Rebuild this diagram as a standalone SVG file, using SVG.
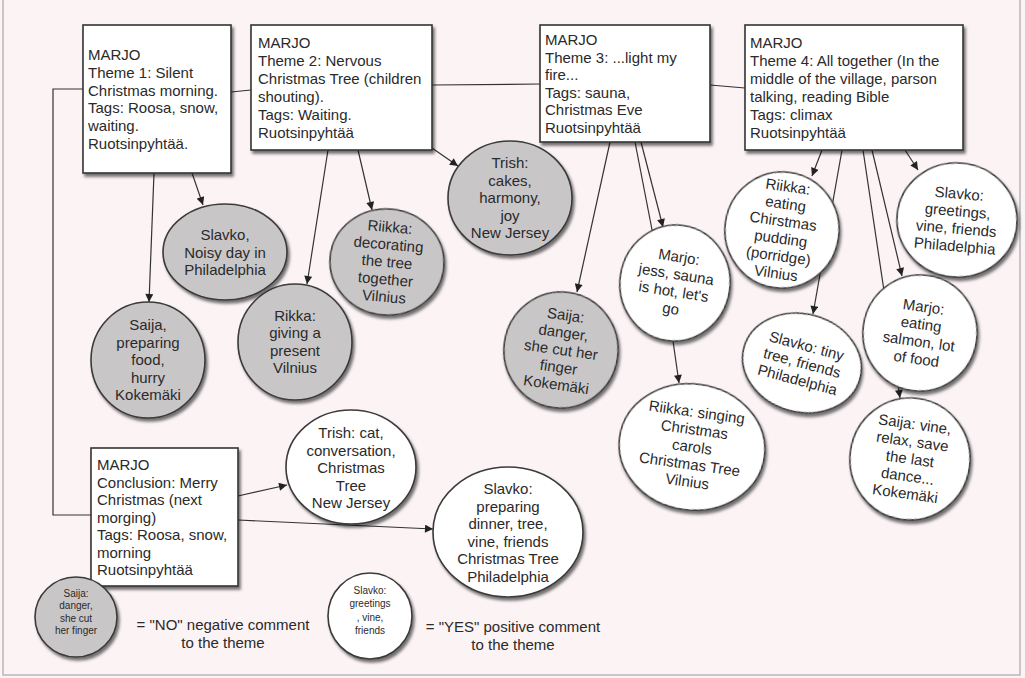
<svg xmlns="http://www.w3.org/2000/svg" width="1025" height="678" viewBox="0 0 1025 678">
<defs>
<style>
.bg{fill:#fcf3f5}
.frame{fill:none;stroke:#b9b6b8;stroke-width:1.5}
.box{fill:#ffffff;stroke:#333;stroke-width:1.6}
.neg{fill:#c9c6c8;stroke:#3a3a3a;stroke-width:1.6}
.pos{fill:#ffffff;stroke:#3a3a3a;stroke-width:1.6}
.sh{filter:url(#shadow)}
text{font-family:"Liberation Sans",Arial,sans-serif;font-size:15px;fill:#2a2a2a}
.c{text-anchor:middle}
.sm{font-size:10px}
.conn line,.conn polyline{stroke:#333;stroke-width:1.2;fill:none}
.arr{marker-end:url(#ah)}
</style>
<filter id="shadow" x="-20%" y="-20%" width="150%" height="150%">
<feDropShadow dx="2" dy="3" stdDeviation="1.8" flood-color="#000" flood-opacity="0.55"/>
</filter>
<marker id="ah" viewBox="0 0 10 10" refX="10" refY="5" markerWidth="9" markerHeight="8" markerUnits="userSpaceOnUse" orient="auto">
<path d="M0,0 L10,5 L0,10 z" fill="#222"/>
</marker>
</defs>
<rect class="bg" x="0" y="0" width="1025" height="678"/>
<polyline class="frame" points="3,0 3,675 1020,675 1020,0"/>

<g id="connectors" class="conn">
<polyline points="83,89 53,89 53,515 91,515"/>
<line x1="231" y1="92" x2="251" y2="90"/>
<line x1="432" y1="85" x2="540" y2="84"/>
<line x1="710" y1="85" x2="745" y2="88"/>
<line class="arr" x1="154" y1="173" x2="149" y2="302"/>
<line class="arr" x1="192" y1="173" x2="203" y2="205"/>
<line class="arr" x1="328" y1="150" x2="307" y2="284"/>
<line class="arr" x1="358" y1="150" x2="372" y2="210"/>
<line class="arr" x1="432" y1="148" x2="458" y2="166"/>
<line class="arr" x1="610" y1="142" x2="577" y2="292"/>
<line x1="635" y1="142" x2="654" y2="240"/>
<line class="arr" x1="641" y1="142" x2="663" y2="227"/>
<line class="arr" x1="673" y1="341" x2="679" y2="383"/>
<line class="arr" x1="822" y1="150" x2="812" y2="176"/>
<line class="arr" x1="842" y1="150" x2="813" y2="314"/>
<line class="arr" x1="863" y1="150" x2="900" y2="398"/>
<line class="arr" x1="872" y1="150" x2="902" y2="276"/>
<line class="arr" x1="905" y1="150" x2="918" y2="170"/>
<line class="arr" x1="238" y1="496" x2="287" y2="485"/>
<line class="arr" x1="238" y1="520" x2="433" y2="529"/>
</g>

<g id="box1">
<rect class="box sh" x="83" y="25" width="148" height="148"/>
<text x="88" y="60">MARJO<tspan x="88" dy="17.8">Theme 1: Silent</tspan><tspan x="88" dy="17.8">Christmas morning.</tspan><tspan x="88" dy="17.8">Tags: Roosa, snow,</tspan><tspan x="88" dy="17.8">waiting.</tspan><tspan x="88" dy="17.8">Ruotsinpyhtää.</tspan></text>
</g>
<g id="box2">
<rect class="box sh" x="251" y="25" width="181" height="125"/>
<text x="258" y="48">MARJO<tspan x="258" dy="18">Theme 2: Nervous</tspan><tspan x="258" dy="18">Christmas Tree (children</tspan><tspan x="258" dy="18">shouting).</tspan><tspan x="258" dy="18">Tags: Waiting.</tspan><tspan x="258" dy="18">Ruotsinpyhtää</tspan></text>
</g>
<g id="box3">
<rect class="box sh" x="540" y="25" width="170" height="117"/>
<text x="545" y="45">MARJO<tspan x="545" dy="17.6">Theme 3: ...light my</tspan><tspan x="545" dy="17.6">fire...</tspan><tspan x="545" dy="17.6">Tags: sauna,</tspan><tspan x="545" dy="17.6">Christmas Eve</tspan><tspan x="545" dy="17.6">Ruotsinpyhtää</tspan></text>
</g>
<g id="box4">
<rect class="box sh" x="745" y="25" width="218" height="125"/>
<text x="750" y="48">MARJO<tspan x="750" dy="18">Theme 4: All together (In the</tspan><tspan x="750" dy="18">middle of the village, parson</tspan><tspan x="750" dy="18">talking, reading Bible</tspan><tspan x="750" dy="18">Tags: climax</tspan><tspan x="750" dy="18">Ruotsinpyhtää</tspan></text>
</g>
<g id="box5">
<rect class="box sh" x="91" y="448" width="147" height="138"/>
<text x="97" y="470">MARJO<tspan x="97" dy="17.5">Conclusion: Merry</tspan><tspan x="97" dy="17.5">Christmas (next</tspan><tspan x="97" dy="17.5">morging)</tspan><tspan x="97" dy="17.5">Tags: Roosa, snow,</tspan><tspan x="97" dy="17.5">morning</tspan><tspan x="97" dy="17.5">Ruotsinpyhtää</tspan></text>
</g>

<g id="n-slavko-noisy">
<ellipse class="neg sh" cx="225" cy="252" rx="62" ry="48"/>
<text class="c" x="225" y="240">Slavko,<tspan x="225" dy="17.5">Noisy day in</tspan><tspan x="225" dy="17.5">Philadelphia</tspan></text>
</g>
<g id="n-saija-preparing">
<ellipse class="neg sh" cx="148" cy="360" rx="57" ry="58"/>
<text class="c" x="148" y="330">Saija,<tspan x="148" dy="17.5">preparing</tspan><tspan x="148" dy="17.5">food,</tspan><tspan x="148" dy="17.5">hurry</tspan><tspan x="148" dy="17.5">Kokemäki</tspan></text>
</g>
<g id="n-rikka-giving">
<ellipse class="neg sh" cx="295" cy="342" rx="57" ry="58"/>
<text class="c" x="295" y="320.75">Rikka:<tspan x="295" dy="17.5">giving a</tspan><tspan x="295" dy="17.5">present</tspan><tspan x="295" dy="17.5">Vilnius</tspan></text>
</g>
<g id="n-riikka-decorating" transform="rotate(5 387 262)">
<ellipse class="neg sh" cx="387" cy="262" rx="57" ry="53"/>
<text class="c" x="387" y="232">Riikka:<tspan x="387" dy="17.5">decorating</tspan><tspan x="387" dy="17.5">the tree</tspan><tspan x="387" dy="17.5">together</tspan><tspan x="387" dy="17.5">Vilnius</tspan></text>
</g>
<g id="n-trish-cakes">
<ellipse class="neg sh" cx="510" cy="198" rx="62" ry="57"/>
<text class="c" x="510" y="168">Trish:<tspan x="510" dy="17.5">cakes,</tspan><tspan x="510" dy="17.5">harmony,</tspan><tspan x="510" dy="17.5">joy</tspan><tspan x="510" dy="17.5">New Jersey</tspan></text>
</g>
<g id="n-saija-danger" transform="rotate(8 561 350)">
<ellipse class="neg sh" cx="561" cy="350" rx="57" ry="58"/>
<text class="c" x="561" y="320">Saija:<tspan x="561" dy="17.5">danger,</tspan><tspan x="561" dy="17.5">she cut her</tspan><tspan x="561" dy="17.5">finger</tspan><tspan x="561" dy="17.5">Kokemäki</tspan></text>
</g>
<g id="n-marjo-jess" transform="rotate(9 675 283)">
<ellipse class="pos sh" cx="675" cy="283" rx="55" ry="58"/>
<text class="c" x="675" y="261.75">Marjo:<tspan x="675" dy="17.5">jess, sauna</tspan><tspan x="675" dy="17.5">is hot, let's</tspan><tspan x="675" dy="17.5">go</tspan></text>
</g>
<g id="n-riikka-singing" transform="rotate(8 692 447)">
<ellipse class="pos sh" cx="692" cy="447" rx="73" ry="63"/>
<text class="c" x="692" y="417">Riikka: singing<tspan x="692" dy="17.5">Christmas</tspan><tspan x="692" dy="17.5">carols</tspan><tspan x="692" dy="17.5">Christmas Tree</tspan><tspan x="692" dy="17.5">Vilnius</tspan></text>
</g>
<g id="n-riikka-eating" transform="rotate(8 782 230)">
<ellipse class="pos sh" cx="782" cy="230" rx="57" ry="58"/>
<text class="c" x="782" y="191.25">Riikka:<tspan x="782" dy="17.5">eating</tspan><tspan x="782" dy="17.5">Chirstmas</tspan><tspan x="782" dy="17.5">pudding</tspan><tspan x="782" dy="17.5">(porridge)</tspan><tspan x="782" dy="17.5">Vilnius</tspan></text>
</g>
<g id="n-slavko-tiny" transform="rotate(15 802 363)">
<ellipse class="pos sh" cx="802" cy="363" rx="60" ry="49"/>
<text class="c" x="802" y="350.5">Slavko: tiny<tspan x="802" dy="17.5">tree, friends</tspan><tspan x="802" dy="17.5">Philadelphia</tspan></text>
</g>
<g id="n-slavko-greetings" transform="rotate(5 957 220)">
<ellipse class="pos sh" cx="957" cy="220" rx="60" ry="57"/>
<text class="c" x="957" y="198.75">Slavko:<tspan x="957" dy="17.5">greetings,</tspan><tspan x="957" dy="17.5">vine, friends</tspan><tspan x="957" dy="17.5">Philadelphia</tspan></text>
</g>
<g id="n-marjo-salmon" transform="rotate(8 920 333)">
<ellipse class="pos sh" cx="920" cy="333" rx="57" ry="58"/>
<text class="c" x="920" y="311.75">Marjo:<tspan x="920" dy="17.5">eating</tspan><tspan x="920" dy="17.5">salmon, lot</tspan><tspan x="920" dy="17.5">of food</tspan></text>
</g>
<g id="n-saija-vine" transform="rotate(8 910 459)">
<ellipse class="pos sh" cx="910" cy="459" rx="60" ry="61"/>
<text class="c" x="910" y="429">Saija: vine,<tspan x="910" dy="17.5">relax, save</tspan><tspan x="910" dy="17.5">the last</tspan><tspan x="910" dy="17.5">dance...</tspan><tspan x="910" dy="17.5">Kokemäki</tspan></text>
</g>
<g id="n-trish-cat">
<ellipse class="pos sh" cx="351" cy="467" rx="65" ry="57"/>
<text class="c" x="351" y="438">Trish: cat,<tspan x="351" dy="17.5">conversation,</tspan><tspan x="351" dy="17.5">Christmas</tspan><tspan x="351" dy="17.5">Tree</tspan><tspan x="351" dy="17.5">New Jersey</tspan></text>
</g>
<g id="n-slavko-preparing">
<ellipse class="pos sh" cx="508" cy="532" rx="75" ry="65"/>
<text class="c" x="508" y="494.25">Slavko:<tspan x="508" dy="17.5">preparing</tspan><tspan x="508" dy="17.5">dinner, tree,</tspan><tspan x="508" dy="17.5">vine, friends</tspan><tspan x="508" dy="17.5">Christmas Tree</tspan><tspan x="508" dy="17.5">Philadelphia</tspan></text>
</g>

<g id="legend-neg">
<ellipse class="neg sh" cx="76" cy="617" rx="41" ry="40"/>
<text class="c sm" x="76" y="597">Saija:<tspan x="76" dy="12.3">danger,</tspan><tspan x="76" dy="12.3">she cut</tspan><tspan x="76" dy="12.3">her finger</tspan></text>
<text class="c" x="223" y="630">= "NO" negative comment<tspan x="223" dy="18">to the theme</tspan></text>
</g>
<g id="legend-pos">
<ellipse class="pos sh" cx="370" cy="616" rx="42" ry="43"/>
<text class="c sm" x="370" y="594">Slavko:<tspan x="370" dy="13.3">greetings</tspan><tspan x="370" dy="13.3">, vine,</tspan><tspan x="370" dy="13.3">friends</tspan></text>
<text class="c" x="513" y="632">= "YES" positive comment<tspan x="513" dy="18">to the theme</tspan></text>
</g>
</svg>
